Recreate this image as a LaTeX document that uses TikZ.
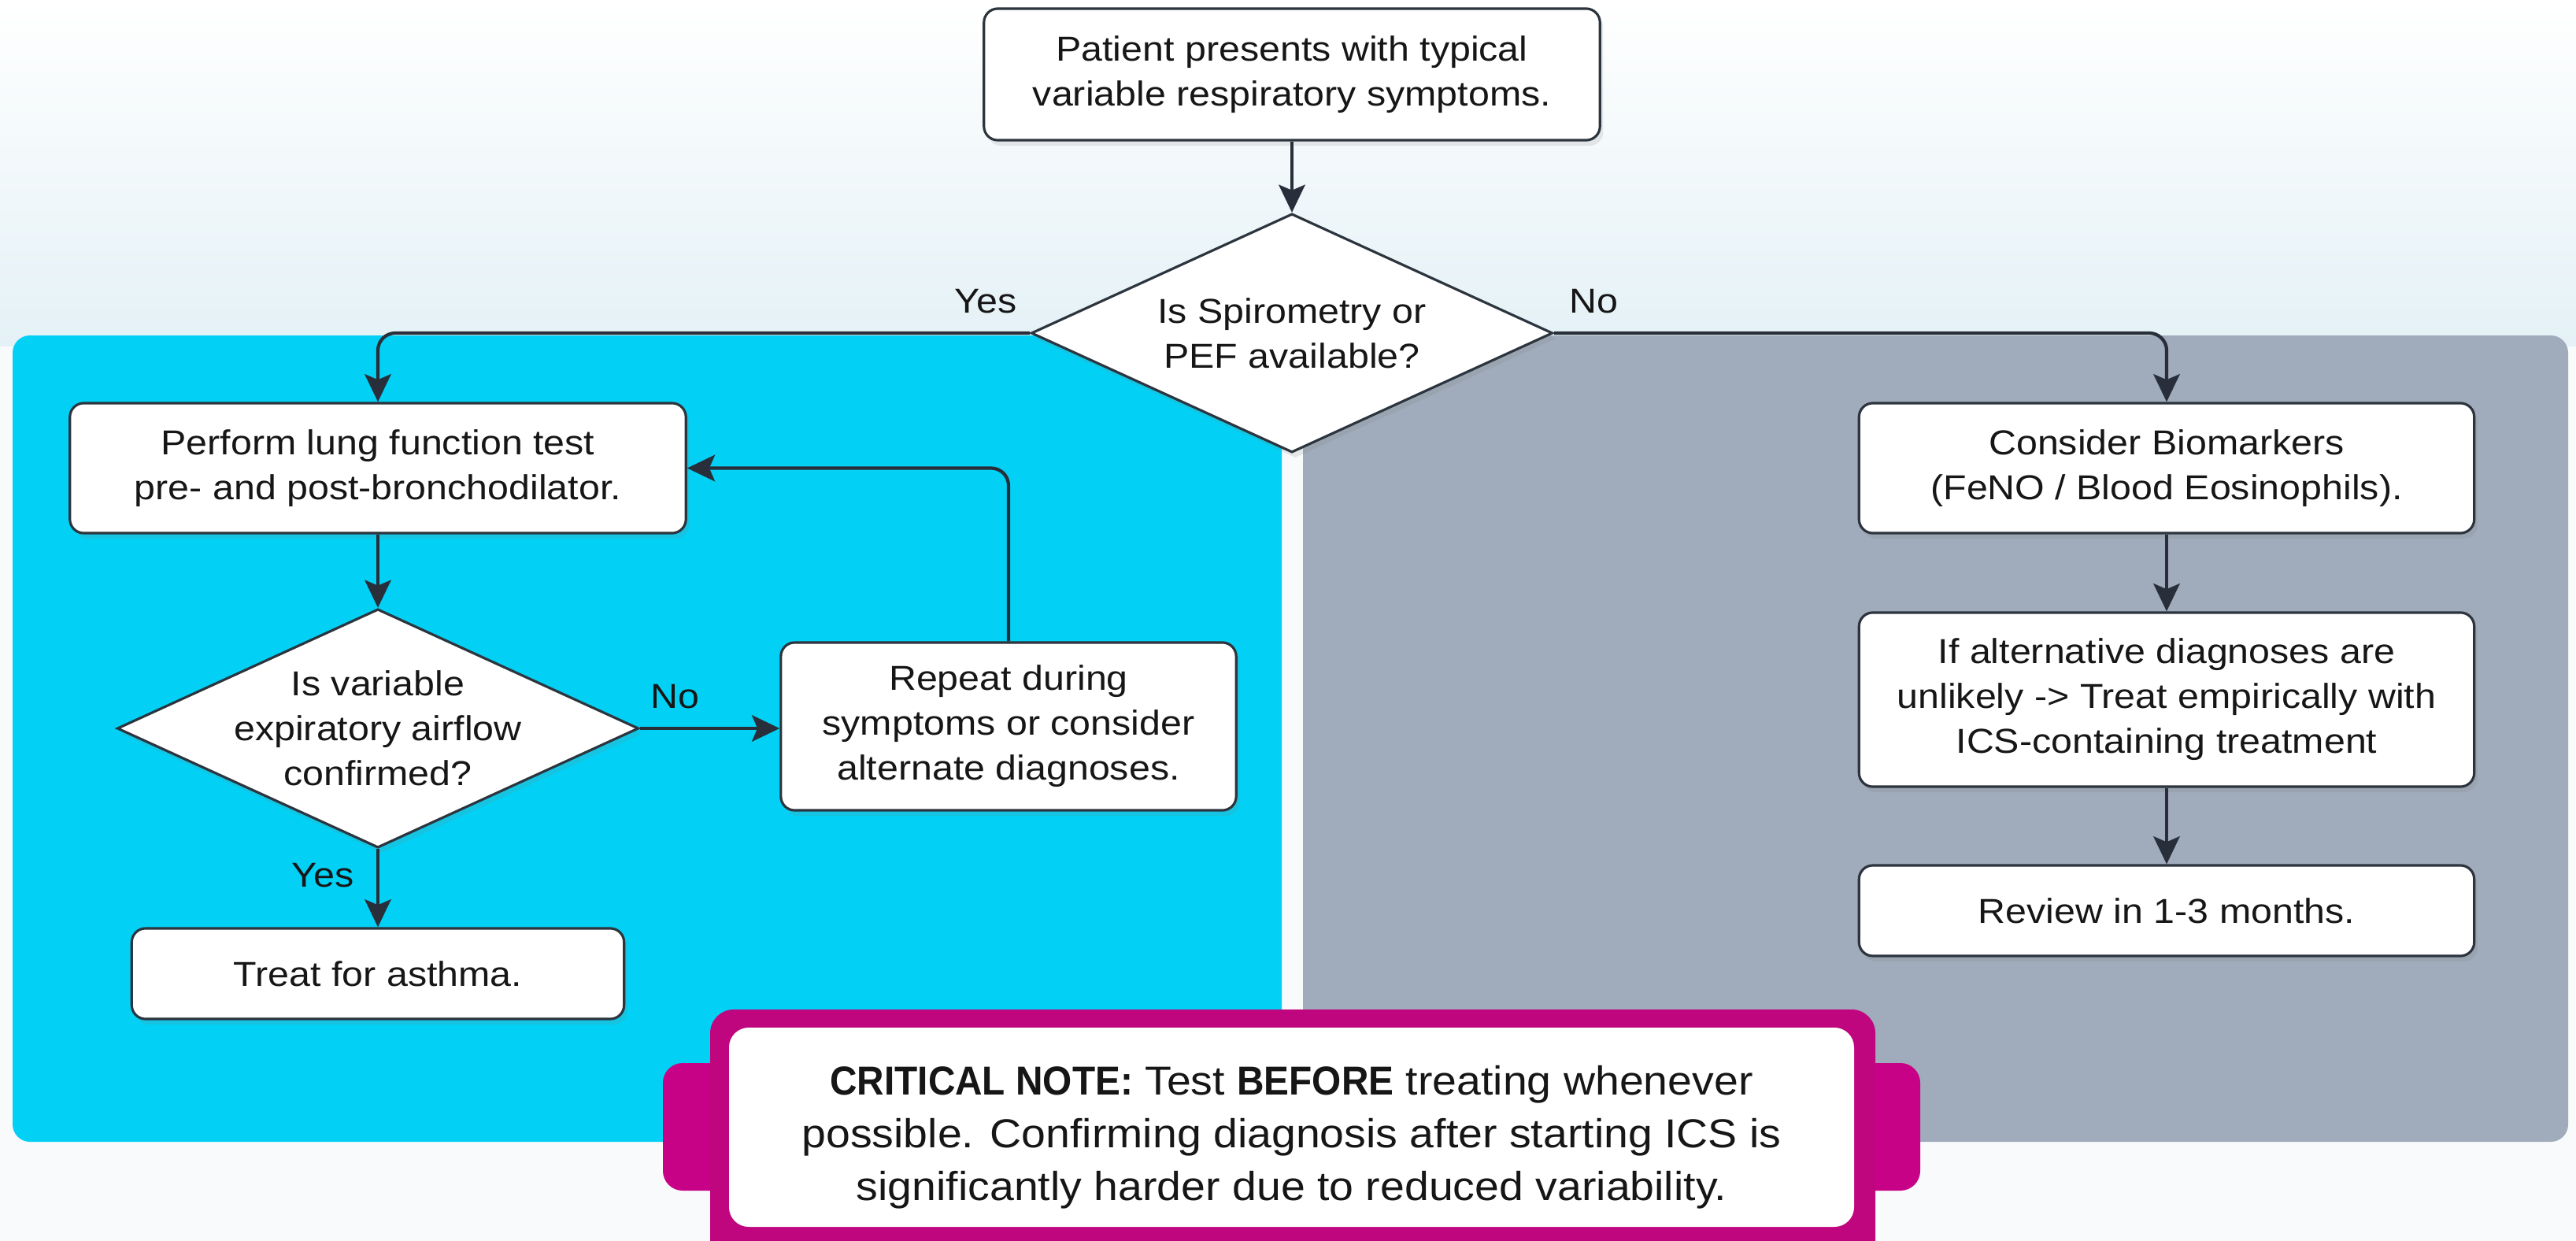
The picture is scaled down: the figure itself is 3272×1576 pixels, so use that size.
\documentclass[tikz,border=0pt]{standalone}
\usepackage{fontspec}
\setmainfont{Liberation Sans}[FakeStretch=1.1]
\newfontfamily\notefam{Liberation Sans}[FakeStretch=1.08]
\newfontfamily\notebfam{Liberation Sans}[FakeStretch=0.93]
\usetikzlibrary{arrows.meta,shapes.geometric,shadows}
\definecolor{cyanp}{RGB}{2,208,244}
\definecolor{grayp}{RGB}{160,171,187}
\definecolor{magframe}{RGB}{192,6,126}
\definecolor{magtab}{RGB}{200,2,134}
\definecolor{ink}{RGB}{40,47,58}
\definecolor{edgec}{RGB}{44,52,62}
\definecolor{txt}{RGB}{22,22,22}
\definecolor{topblue}{RGB}{228,241,246}
\definecolor{lowbg}{RGB}{249,250,251}
\newcommand\flowfont{\fontsize{12.5pt}{16.2pt}\selectfont}
\newcommand\notefont{\notefam\fontsize{14.6pt}{19pt}\selectfont}
\newcommand\notebold[1]{{\notebfam\bfseries #1}}
\begin{document}
\begin{tikzpicture}[x=0.01cm,y=-0.01cm,
  shad/.style={drop shadow={opacity=0.16,shadow xshift=1.2pt,shadow yshift=-2pt}},
  box/.style={draw=edgec,line width=0.9pt,fill=white,rounded corners=5pt,align=center,
    text=txt,font=\flowfont,inner sep=0pt,shad},
  diam/.style={shape=diamond,draw=edgec,line width=0.9pt,fill=white,inner sep=0pt,
    aspect=2.18,minimum width=6.62cm,minimum height=3.03cm,shad},
  dtext/.style={align=center,text=txt,font=\flowfont,inner sep=0pt},
  lbl/.style={text=txt,font=\flowfont,inner sep=0pt},
  arr/.style={draw=ink,line width=1.2pt,-{Stealth[length=10pt,width=9.5pt,inset=2pt]}},
  corner/.style={rounded corners=0.22cm}]
\useasboundingbox (0,0) rectangle (3272,1576);
% background
\shade[top color=white,bottom color=topblue] (0,0) rectangle (3272,440);
\fill[lowbg] (0,440) rectangle (3272,1576);
\fill[cyanp,rounded corners=0.22cm] (16,426) rectangle (1628,1450);
\fill[grayp,rounded corners=0.22cm] (1655,426) rectangle (3262,1450);
% nodes
\node[box,minimum width=7.82cm,minimum height=1.67cm] (top) at (1641,94.5)
  {Patient presents with typical\\variable respiratory symptoms.};
\node[diam] (d1) at (1641,423) {};
\node[dtext] (d1t) at (d1.center) {Is Spirometry or\\PEF available?};
\node[box,minimum width=7.82cm,minimum height=1.65cm] (lung) at (480,594.5)
  {Perform lung function test\\pre- and post-bronchodilator.};
\node[diam] (d2) at (480,925) {};
\node[dtext] (d2t) at (d2.center) {Is variable\\expiratory airflow\\confirmed?};
\node[box,minimum width=5.78cm,minimum height=2.13cm] (rep) at (1281,922.5)
  {Repeat during\\symptoms or consider\\alternate diagnoses.};
\node[box,minimum width=6.25cm,minimum height=1.15cm] (treat) at (480,1236.5)
  {Treat for asthma.};
\node[box,minimum width=7.81cm,minimum height=1.65cm] (bio) at (2752,594.5)
  {Consider Biomarkers\\(FeNO / Blood Eosinophils).};
\node[box,minimum width=7.81cm,minimum height=2.21cm] (alt) at (2752,888.5)
  {If alternative diagnoses are\\unlikely -> Treat empirically with\\ICS-containing treatment};
\node[box,minimum width=7.81cm,minimum height=1.15cm] (rev) at (2752,1156.5)
  {Review in 1-3 months.};
% labels
\node[lbl] (yes1) at (1252,383) {Yes};
\node[lbl] (no1) at (2024,383) {No};
\node[lbl] (no2) at (857,885) {No};
\node[lbl] (yes2) at (410,1112) {Yes};
% connectors
\draw[arr] (top.south) -- (d1.north);
\draw[arr,corner] (d1.west) -| (lung.north);
\draw[arr,corner] (d1.east) -| (bio.north);
\draw[arr] (lung.south) -- (d2.north);
\draw[arr] (d2.east) -- (d2.east -| rep.west);
\draw[arr,corner] (rep.north) |- (lung.east);
\draw[arr] (d2.south) -- (treat.north);
\draw[arr] (bio.south) -- (alt.north);
\draw[arr] (alt.south) -- (rev.north);
% critical note
\begin{scope}
\clip (0,0) rectangle (3272,1576);
\fill[magtab,rounded corners=0.25cm] (842,1350) rectangle (940,1512);
\fill[magtab,rounded corners=0.25cm] (2340,1350) rectangle (2439,1512);
\fill[magframe,rounded corners=0.3cm] (902,1282) rectangle (2382,1650);
\fill[white,rounded corners=0.25cm] (926,1305) rectangle (2355,1558);
\node[align=center,text=txt,font=\notefont,inner sep=0pt] (note) at (1640.5,1444)
  {\notebold{CRITICAL NOTE:} Test \notebold{BEFORE} treating whenever\\
   possible. Confirming diagnosis after starting ICS is\\
   significantly harder due to reduced variability.};
\end{scope}
\end{tikzpicture}
\end{document}
